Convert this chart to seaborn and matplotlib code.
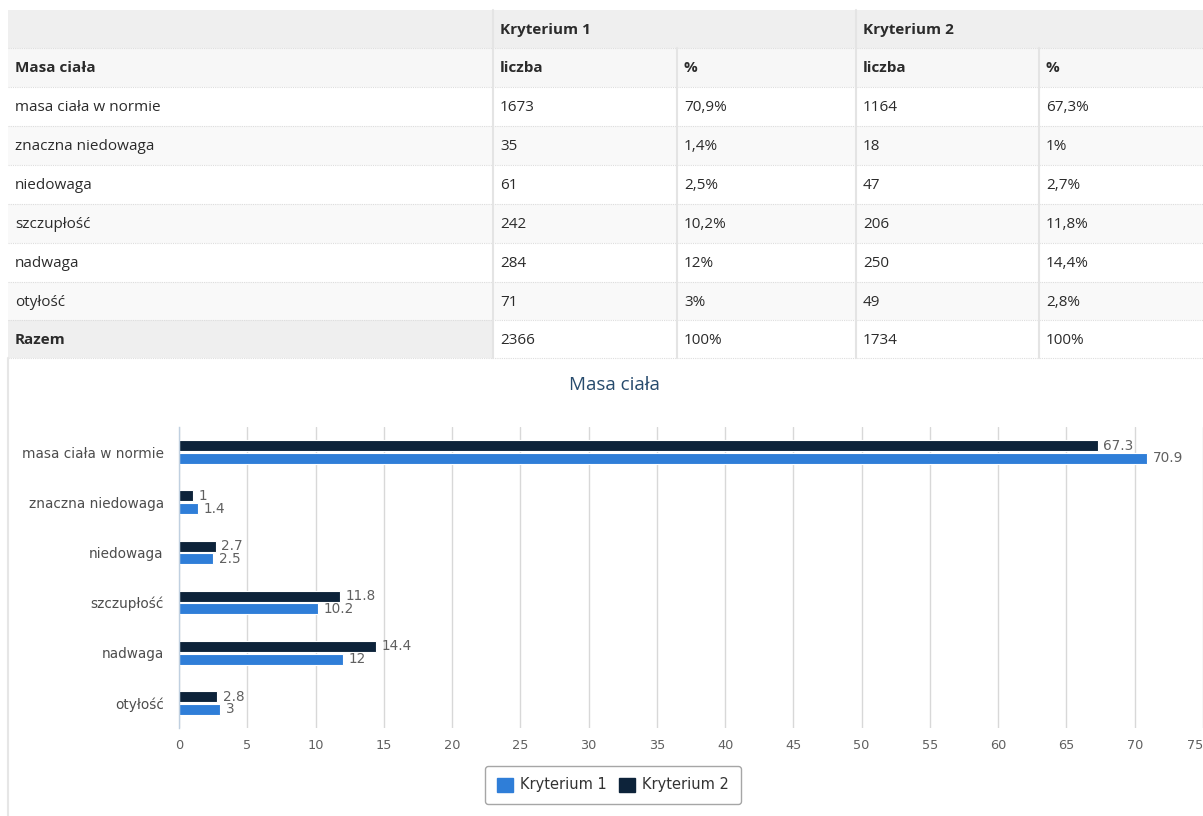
import matplotlib
matplotlib.use("Agg")
import matplotlib.pyplot as plt
import matplotlib.patches as mpatches
import pandas as pd
import seaborn as sns

# data
categories = ["masa ciała w normie", "znaczna niedowaga", "niedowaga",
              "szczupłość", "nadwaga", "otyłość"]
k1_count = [1673, 35, 61, 242, 284, 71]
k1_pct = [70.9, 1.4, 2.5, 10.2, 12, 3]
k2_count = [1164, 18, 47, 206, 250, 49]
k2_pct = [67.3, 1, 2.7, 11.8, 14.4, 2.8]
total_label = "Razem"
k1_total = 2366
k2_total = 1734
series_names = ["Kryterium 1", "Kryterium 2"]
x_ticks = list(range(0, 80, 5))

BLUE = "#2f7ed8"
DARK = "#0d233a"
LABEL = "#606060"


def fmt_pct(v):
    s = f"{v:g}".replace(".", ",")
    return s + "%"


def fmt_num(v):
    return f"{v:g}"


sns.set_theme(style="white")
plt.rcParams["font.family"] = ["DejaVu Sans"]

fig = plt.figure(figsize=(12.03, 8.16), dpi=100)

# ---- table (overlay in pixel coordinates) ----
tab = fig.add_axes([0, 0, 1, 1], zorder=0)
tab.set_xlim(0, 1203)
tab.set_ylim(816, 0)
tab.axis("off")

col_x = [8, 493, 677, 856, 1039, 1210]
row_y = [10, 48, 87, 126, 165, 204, 243, 282, 320, 358]
tfont = dict(family=["Open Sans", "DejaVu Sans"], fontsize=11, color="#2b2b2b")

# header row 1
tab.add_patch(mpatches.Rectangle((col_x[0], row_y[0]), col_x[-1] - col_x[0],
                                 row_y[1] - row_y[0], color="#efefef", lw=0))
# header row 2
tab.add_patch(mpatches.Rectangle((col_x[0], row_y[1]), col_x[-1] - col_x[0],
                                 row_y[2] - row_y[1], color="#f7f7f7", lw=0))
# data rows, striped
for i in range(len(categories)):
    if i % 2 == 1:
        tab.add_patch(mpatches.Rectangle((col_x[0], row_y[i + 2]), col_x[-1] - col_x[0],
                                         row_y[i + 3] - row_y[i + 2], color="#f9f9f9", lw=0))
# total row first cell
tab.add_patch(mpatches.Rectangle((col_x[0], row_y[8]), col_x[1] - col_x[0],
                                 row_y[9] - row_y[8], color="#efefef", lw=0))

# separators
for y in row_y[1:]:
    tab.plot([col_x[0], col_x[-1]], [y, y], color="#dddddd", lw=0.8, ls=(0, (1, 1)))
tab.plot([col_x[1], col_x[1]], [row_y[0], row_y[-1]], color="#e4e4e4", lw=1.5)
tab.plot([col_x[3], col_x[3]], [row_y[0], row_y[-1]], color="#e4e4e4", lw=1.5)
for cx in (col_x[2], col_x[4]):
    tab.plot([cx, cx], [row_y[1], row_y[-1]], color="#e4e4e4", lw=1.5)


def cell(ci, ri, txt, bold=False):
    yc = (row_y[ri] + row_y[ri + 1]) / 2 + 1
    tab.text(col_x[ci] + 7, yc, txt, va="center", ha="left",
             fontweight="bold" if bold else "normal", **tfont)


cell(1, 0, series_names[0], bold=True)
cell(3, 0, series_names[1], bold=True)
cell(0, 1, "Masa ciała", bold=True)
for ci, t in zip(range(1, 5), ["liczba", "%", "liczba", "%"]):
    cell(ci, 1, t, bold=True)
for i, c in enumerate(categories):
    cell(0, i + 2, c)
    cell(1, i + 2, str(k1_count[i]))
    cell(2, i + 2, fmt_pct(k1_pct[i]))
    cell(3, i + 2, str(k2_count[i]))
    cell(4, i + 2, fmt_pct(k2_pct[i]))
cell(0, 8, total_label, bold=True)
cell(1, 8, str(k1_total))
cell(2, 8, "100%")
cell(3, 8, str(k2_total))
cell(4, 8, "100%")

# chart container left border
tab.plot([8, 8], [358, 816], color="#e6e6e6", lw=1.5)

# ---- chart ----
df = pd.DataFrame({
    "kategoria": categories * 2,
    "seria": [series_names[0]] * len(categories) + [series_names[1]] * len(categories),
    "wartosc": k1_pct + k2_pct,
})

ax = fig.add_axes([179 / 1203, 1 - 728 / 816, 1 - 179 / 1203, (728 - 427) / 816], zorder=1)
ax.patch.set_alpha(0)
sns.barplot(data=df, y="kategoria", x="wartosc", hue="seria",
            hue_order=[series_names[1], series_names[0]], order=categories,
            palette={series_names[0]: BLUE, series_names[1]: DARK}, saturation=1,
            orient="h", width=0.5, gap=0.12, edgecolor="white", linewidth=0.8,
            legend=False, ax=ax)

ax.set_xlim(0, 75)
ax.set_xticks(x_ticks)
ax.set_xticklabels([str(t) for t in x_ticks], color=LABEL, fontsize=9.3)
ax.get_xticklabels()[-1].set_horizontalalignment("right")
ax.tick_params(axis="x", length=0, pad=8)
ax.grid(axis="x", color="#d8d8d8", lw=1)
ax.set_axisbelow(True)
ax.set_xlabel("")
ax.set_ylabel("")
ax.tick_params(axis="y", which="major", length=0, pad=11, labelsize=9.8, labelcolor="#4d4d4d")
ax.set_yticks([i - 0.5 for i in range(len(categories) + 1)], minor=True)
ax.tick_params(axis="y", which="minor", length=7, color="#c0d0e0", width=1, direction="out")
for s in ("top", "right", "bottom"):
    ax.spines[s].set_visible(False)
ax.spines["left"].set_color("#c0d0e0")
ax.spines["left"].set_linewidth(1)

for cont in ax.containers:
    ax.bar_label(cont, labels=[fmt_num(v) for v in cont.datavalues], padding=4,
                 color=LABEL, fontsize=9.8)

fig.text(614 / 1203, 1 - 385 / 816, "Masa ciała", ha="center", va="center",
         fontsize=13.5, color="#274b6d", family=["Open Sans", "DejaVu Sans"])

handles = [mpatches.Patch(facecolor=BLUE, edgecolor=BLUE, label=series_names[0]),
           mpatches.Patch(facecolor=DARK, edgecolor=DARK, label=series_names[1])]
leg = fig.legend(handles=handles, loc="center", bbox_to_anchor=(613 / 1203, 1 - 785 / 816),
                 ncol=2, frameon=True, fancybox=True, fontsize=10.5, handlelength=1.1,
                 handleheight=1.1, columnspacing=0.8, handletextpad=0.5,
                 borderpad=0.8, borderaxespad=0, labelcolor="#333333")
leg.get_frame().set_edgecolor("#909090")
leg.get_frame().set_linewidth(1)

fig.savefig("out.png", dpi=100)
